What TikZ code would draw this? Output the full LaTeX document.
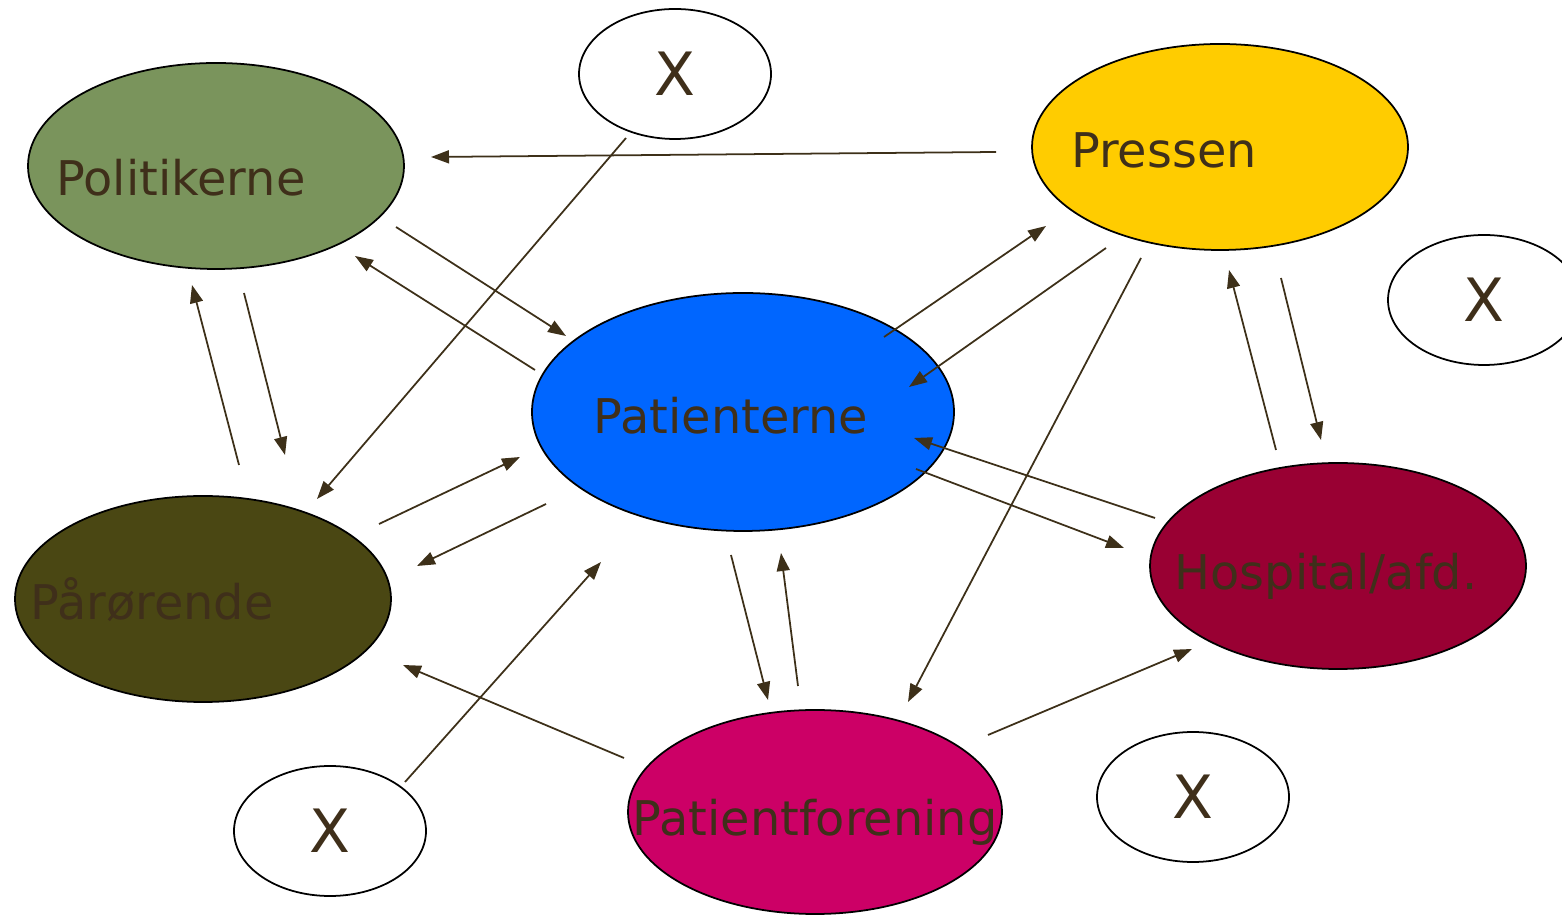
\documentclass[tikz,border=0pt]{standalone}
\usepackage{fontspec}
\setmainfont{DejaVu Sans}
\usepackage{xcolor}
\usepackage{tikz}
\usetikzlibrary{arrows.meta,positioning,calc,shapes.geometric}

\definecolor{txtbrown}{HTML}{3F2F1A}
\definecolor{arrbrown}{HTML}{3D3019}
\definecolor{polgreen}{HTML}{7A945C}
\definecolor{preyellow}{HTML}{FFCC00}
\definecolor{patblue}{HTML}{0066FF}
\definecolor{parolive}{HTML}{4A4713}
\definecolor{hosred}{HTML}{990033}
\definecolor{pfmagenta}{HTML}{CC0066}

\begin{document}
\begin{tikzpicture}[
  ell/.style={draw, ellipse, inner sep=0pt, line width=0.5pt,
    minimum width=3.76cm, minimum height=2.06cm},
  xell/.style={draw, ellipse, inner sep=0pt, line width=0.5pt, fill=white,
    minimum width=1.92cm, minimum height=1.30cm, text=txtbrown,
    font=\fontsize{17}{20}\selectfont},
  lbl/.style={text=txtbrown, font=\fontsize{13.6}{16}\selectfont},
  arr/.style={-{Triangle[length=1.8mm, width=1.3mm]}, arrbrown, line width=0.5pt}
]
\useasboundingbox (0,0) rectangle (15.62,-9.16);
\node[ell, fill=polgreen, label={[lbl, xshift=-0.35cm, yshift=-0.12cm]center:Politikerne}] (pol) at (2.16,-1.66) {};
\node[ell, fill=preyellow, label={[lbl, xshift=-0.56cm, yshift=-0.03cm]center:Pressen}] (pre) at (12.20,-1.47) {};
\node[ell, fill=patblue, minimum width=4.22cm, minimum height=2.38cm,
  label={[lbl, xshift=-0.12cm, yshift=-0.04cm]center:Patienterne}] (pat) at (7.43,-4.12) {};
\node[ell, fill=parolive, label={[lbl, xshift=-0.51cm, yshift=-0.01cm]center:Pårørende}] (par) at (2.03,-5.99) {};
\node[ell, fill=hosred, label={[lbl, xshift=-0.12cm, yshift=-0.10cm]center:Hospital/afd.}] (hos) at (13.38,-5.66) {};
\node[ell, fill=pfmagenta, minimum width=3.74cm, minimum height=2.04cm,
  label={[lbl, yshift=-0.10cm]center:Patientforening}] (pf) at (8.15,-8.12) {};
\node[xell] (xtop) at (6.75,-0.74) {X};
\node[xell] (xright) at (14.84,-3.00) {X};
\node[xell] (xbl) at (3.30,-8.31) {X};
\node[xell] (xbr) at (11.93,-7.97) {X};

\draw[arr] ($(pre)+(-2.24,-0.05)$) -- ($(pol)+(2.15,0.09)$);
\draw[arr] ($(pol)+(1.80,-0.61)$) -- ($(pat)+(-1.77,0.76)$);
\draw[arr] ($(pat)+(-2.08,0.42)$) -- ($(pol)+(1.39,-0.90)$);
\draw[arr] ($(pol)+(0.28,-1.27)$) -- ($(par)+(0.82,1.44)$);
\draw[arr] ($(par)+(0.36,1.34)$) -- ($(pol)+(-0.24,-1.19)$);
\draw[arr] ($(xtop)+(-0.49,-0.64)$) -- ($(par)+(1.14,1.00)$);
\draw[arr] ($(par)+(1.76,0.75)$) -- ($(pat)+(-2.23,-0.45)$);
\draw[arr] ($(pat)+(-1.97,-0.92)$) -- ($(par)+(2.14,0.33)$);
\draw[arr] ($(pat)+(1.41,0.75)$) -- ($(pre)+(-1.74,-0.79)$);
\draw[arr] ($(pre)+(-1.14,-1.01)$) -- ($(pat)+(1.66,0.25)$);
\draw[arr] ($(pre)+(-0.79,-1.11)$) -- ($(pf)+(0.93,1.10)$);
\draw[arr] ($(pre)+(0.61,-1.31)$) -- ($(hos)+(-0.17,1.26)$);
\draw[arr] ($(hos)+(-0.62,1.16)$) -- ($(pre)+(0.09,-1.23)$);
\draw[arr] ($(hos)+(-1.83,0.48)$) -- ($(pat)+(1.71,-0.26)$);
\draw[arr] ($(pat)+(1.73,-0.57)$) -- ($(hos)+(-2.14,0.18)$);
\draw[arr] ($(pat)+(-0.12,-1.43)$) -- ($(pf)+(-0.47,1.12)$);
\draw[arr] ($(pf)+(-0.17,1.26)$) -- ($(pat)+(0.38,-1.41)$);
\draw[arr] ($(pf)+(-1.91,0.54)$) -- ($(par)+(2.00,-0.66)$);
\draw[arr] ($(xbl)+(0.75,0.49)$) -- ($(pat)+(-1.42,-1.50)$);
\draw[arr] ($(pf)+(1.73,0.77)$) -- ($(hos)+(-1.46,-0.83)$);
\end{tikzpicture}
\end{document}
